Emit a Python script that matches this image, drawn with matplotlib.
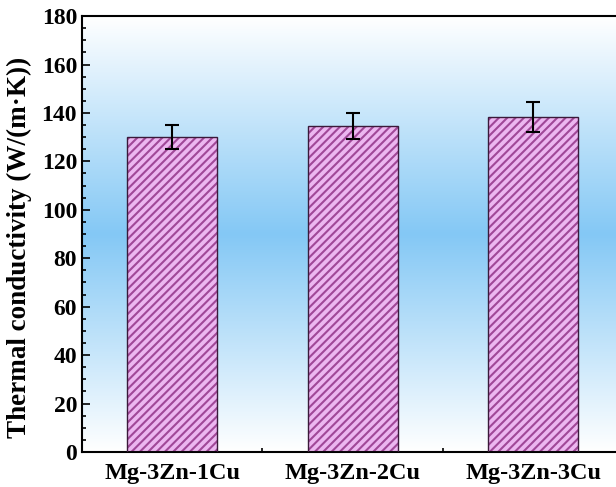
import matplotlib.pyplot as plt
import numpy as np
from matplotlib.colors import LinearSegmentedColormap
from matplotlib.ticker import MultipleLocator

# thermal conductivity of the three alloys
alloys = ["Mg-3Zn-1Cu", "Mg-3Zn-2Cu", "Mg-3Zn-3Cu"]
conductivity = [130.0, 134.6, 138.4]
errors = [5.0, 5.4, 6.2]

plt.rcParams['font.family'] = ['Liberation Serif', 'DejaVu Serif']
plt.rcParams['font.weight'] = 'bold'
plt.rcParams['hatch.linewidth'] = 1.5

fig = plt.figure(figsize=(6.16, 4.87), dpi=100)
ax = fig.add_axes([0.133, 0.072, 0.879, 0.895])

x = np.arange(1, len(alloys) + 1)

ax.set_xlim(0.5, 3.5)
ax.set_ylim(0, 180)

# gradient background: white - light blue - white
cmap = LinearSegmentedColormap.from_list('bg', ['#ffffff', '#84c8f5', '#ffffff'])
grad = np.linspace(0, 1, 256).reshape(-1, 1)
ax.imshow(grad, cmap=cmap, aspect='auto', extent=(0.5, 3.5, 0, 180),
          origin='lower', zorder=0, interpolation='bilinear')

ax.bar(x, conductivity, width=0.5, color='#ecb6f0', edgecolor='#a04898',
       hatch='////', linewidth=0, zorder=2)
ax.bar(x, conductivity, width=0.5, fill=False, edgecolor='#3a1a3a',
       linewidth=1.0, zorder=3)
ax.errorbar(x, conductivity, yerr=errors, fmt='none', ecolor='black',
            elinewidth=1.5, capsize=5, capthick=1.5, zorder=4)

ax.set_xticks(x)
ax.set_xticklabels(alloys, fontsize=17.5)
ax.xaxis.set_minor_locator(MultipleLocator(0.5))
ax.yaxis.set_major_locator(MultipleLocator(20))
ax.yaxis.set_minor_locator(MultipleLocator(5))
ax.tick_params(which='both', direction='in', width=1.2)
ax.tick_params(axis='y', labelsize=17)
ax.tick_params(axis='x', pad=8)
ax.tick_params(which='major', length=6)
ax.tick_params(which='minor', length=3)
for lbl in ax.get_xticklabels() + ax.get_yticklabels():
    lbl.set_fontweight('bold')

ax.set_ylabel('Thermal conductivity (W/(m·K))', fontsize=19.5, fontweight='bold')
ax.yaxis.set_label_coords(-0.092, 0.47)
for s in ax.spines.values():
    s.set_linewidth(1.5)

fig.savefig('out.png', dpi=100)
